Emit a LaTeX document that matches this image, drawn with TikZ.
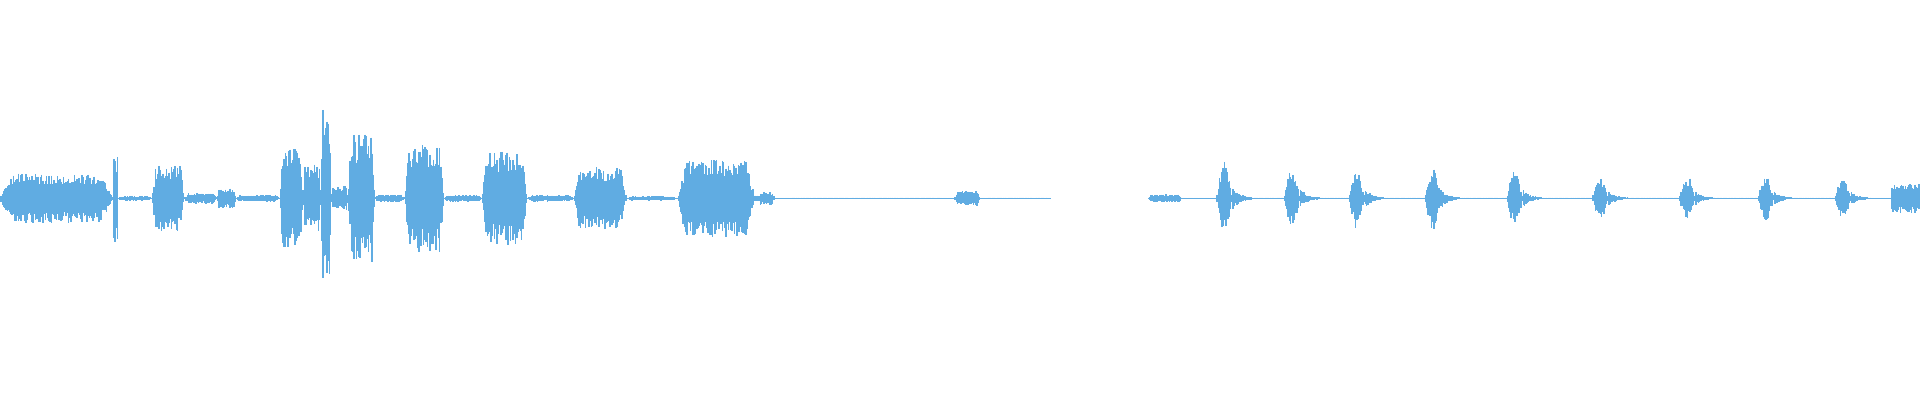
\documentclass[tikz,border=0pt]{standalone}
\definecolor{wave}{RGB}{96,172,226}
\begin{document}
\begin{tikzpicture}[x=0.012245cm,y=0.012245cm,
    sample/.style={draw=wave,line width=0.45pt}]
    \pgfmathsetseed{7}
    % canvas
    \useasboundingbox (0,0) rectangle (1568,327);
    % segments of the first recording
    \foreach \a/\b/\m in {0/92/20,93/96/36,97/124/1.5,125/150/27,151/177/4,178/192/8,193/228/2.5,
        229/247/42,248/262/28,263/270/80,271/284/10,285/306/52,307/330/3,331/362/44,
        363/393/2.5,394/430/38,431/468/2.5,469/511/25,512/553/1.5,554/616/32,617/619/2,620/632/5,
        633/779/0.3,780/800/6,801/858/0.3,938/965/3,966/1544/0.3}{
        \foreach \x in {\a,...,\b}{
            \pgfmathsetmacro\w{min(1,3*sin(180*((\x-\a+0.5)/(\b-\a+1))))}
            \pgfmathsetmacro\up{165+\m*(0.55+0.45*rnd)*\w+0.3}
            \pgfmathsetmacro\dn{165-\m*(0.55+0.45*rnd)*\w-0.3}
            \draw[sample] (\x,\up) -- (\x,\dn);
        }
    }
    % short bursts of the second recording
    \foreach \c/\m in {1000/30,1055/26,1108/25,1170/26,1237/22,1307/18,1378/18,1442/18,1505/17}{
        \foreach \x in {-6,...,22}{
            \pgfmathsetmacro\env{ifthenelse(\x<7,\m*sin(180*((\x+6.5)/13)),\m*0.3*exp(-(\x-7)/6))}
            \pgfmathsetmacro\up{165+\env*(0.55+0.45*rnd)+0.3}
            \pgfmathsetmacro\dn{165-\env*(0.55+0.45*rnd)-0.3}
            \pgfmathsetmacro\px{\c+\x}
            \draw[sample] (\px,\up) -- (\px,\dn);
        }
    }
    % tail block
    \foreach \x in {1545,...,1567}{
        \pgfmathsetmacro\up{165+12*(0.6+0.4*rnd)}
        \pgfmathsetmacro\dn{165-12*(0.6+0.4*rnd)}
        \draw[sample] (\x,\up) -- (\x,\dn);
    }
\end{tikzpicture}
\end{document}
